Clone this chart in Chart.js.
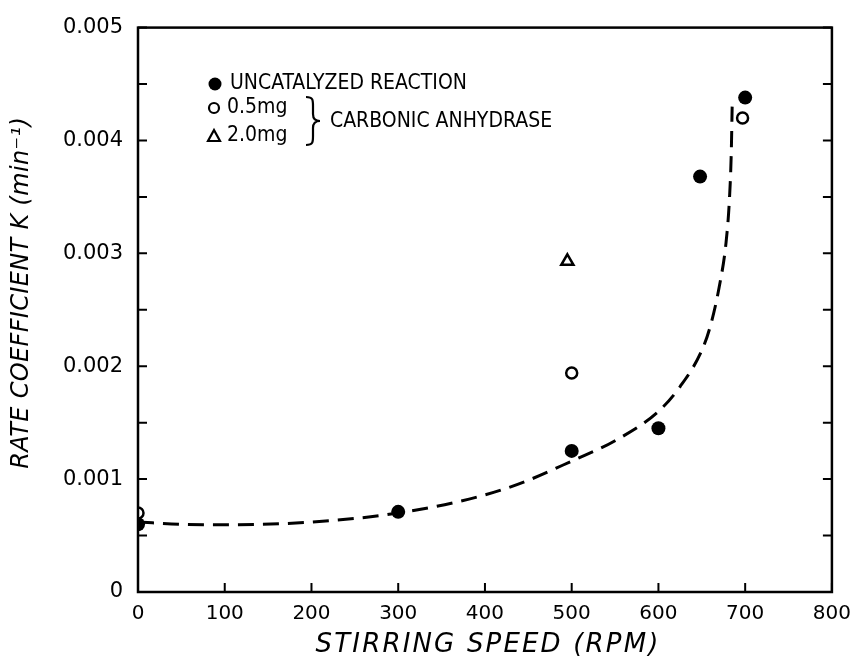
<!DOCTYPE html>
<html>
<head>
<meta charset="utf-8">
<script src="https://cdn.jsdelivr.net/npm/chart.js@4.4.0/dist/chart.umd.min.js"></script>
<style>
  html, body { margin: 0; background: #fff; }
</style>
</head>
<body>
<div style="width:861px;height:661px">
  <canvas id="myChart" width="861" height="661"></canvas>
</div>
<script>
// stirring speed ticks (RPM) and rate tick labels
const speedTicks = [0, 100, 200, 300, 400, 500, 600, 700, 800];
const rateTickLabels = ['0', '0.001', '0.002', '0.003', '0.004', '0.005'];

// uncatalyzed reaction (filled circles)
const uncatSpeed = [0, 300, 500, 600, 648, 700];
const uncatRate = [0.00060, 0.00071, 0.00125, 0.00145, 0.00368, 0.00438];

// 0.5 mg carbonic anhydrase (open circles)
const mg05Speed = [0, 500, 697];
const mg05Rate = [0.00070, 0.00194, 0.00420];

// 2.0 mg carbonic anhydrase (open triangle)
const mg20Speed = [495];
const mg20Rate = [0.00293];

// dashed fitted curve
const fitSpeed = [0, 50, 100, 200, 300, 400, 450, 500, 550, 600, 625, 650, 660, 670, 678, 682, 684, 685];
const fitRate = [0.00062, 0.00060, 0.000595, 0.00062, 0.00070, 0.00086, 0.00099, 0.00116, 0.00134, 0.00160, 0.00182, 0.00214, 0.00236, 0.00270, 0.00310, 0.00350, 0.00390, 0.00430];

const xTitle = 'STIRRING SPEED (RPM)';
const yTitle = 'RATE COEFFICIENT K (min⁻¹)';

const toXY = (xs, ys) => xs.map((x, i) => ({ x: x, y: ys[i] }));

const LETTER = '"DejaVu Sans Condensed", "Liberation Sans Narrow", "DejaVu Sans", sans-serif';
const TITLE = '"DejaVu Sans", sans-serif';

// draw text stretched to a given width using letter spacing
function spacedText(ctx, text, cx, cy, width) {
  ctx.letterSpacing = '0px';
  const w = ctx.measureText(text).width;
  const sp = Math.max(0, (width - w) / text.length);
  ctx.letterSpacing = sp + 'px';
  ctx.fillText(text, cx + sp / 2, cy);
  ctx.letterSpacing = '0px';
}

const framePlugin = {
  id: 'frame',
  afterDraw(chart) {
    const { ctx, chartArea: a, scales: { x, y } } = chart;
    ctx.save();
    ctx.strokeStyle = '#000';
    ctx.lineWidth = 2.5;
    ctx.strokeRect(a.left, a.top, a.right - a.left, a.bottom - a.top);

    // inward tick marks
    ctx.lineWidth = 2;
    ctx.beginPath();
    x.ticks.forEach(t => {
      const px = x.getPixelForValue(t.value);
      ctx.moveTo(px, a.bottom);
      ctx.lineTo(px, a.bottom - 9);
    });
    y.ticks.forEach(t => {
      const py = y.getPixelForValue(t.value);
      ctx.moveTo(a.left, py);
      ctx.lineTo(a.left + 9, py);
      ctx.moveTo(a.right, py);
      ctx.lineTo(a.right - 9, py);
    });
    ctx.stroke();

    // axis titles
    ctx.fillStyle = '#000';
    ctx.textBaseline = 'middle';
    ctx.textAlign = 'center';
    ctx.font = 'italic 26px ' + TITLE;
    spacedText(ctx, xTitle, 487, 645, 345);
    ctx.font = 'italic 24px ' + TITLE;
    ctx.save();
    ctx.translate(22, 293);
    ctx.rotate(-Math.PI / 2);
    spacedText(ctx, yTitle, 0, 0, 352);
    ctx.restore();

    // legend
    ctx.beginPath();
    ctx.arc(215, 84, 6.5, 0, Math.PI * 2);
    ctx.fill();
    ctx.lineWidth = 2.2;
    ctx.beginPath();
    ctx.arc(214, 108, 5, 0, Math.PI * 2);
    ctx.stroke();
    ctx.beginPath();
    ctx.moveTo(214, 130);
    ctx.lineTo(220, 141);
    ctx.lineTo(208, 141);
    ctx.closePath();
    ctx.stroke();

    ctx.font = '21px ' + LETTER;
    ctx.textAlign = 'left';
    ctx.fillText('UNCATALYZED REACTION', 230, 84);
    ctx.fillText('0.5mg', 227, 108);
    ctx.fillText('2.0mg', 227, 136);
    ctx.fillText('CARBONIC ANHYDRASE', 330, 122);

    // curly brace
    ctx.lineWidth = 2.2;
    ctx.beginPath();
    ctx.moveTo(306, 97);
    ctx.bezierCurveTo(313, 97, 313, 100, 313, 106);
    ctx.lineTo(313, 114);
    ctx.bezierCurveTo(313, 119, 315, 121, 320, 121);
    ctx.bezierCurveTo(315, 121, 313, 123, 313, 128);
    ctx.lineTo(313, 136);
    ctx.bezierCurveTo(313, 142, 313, 145, 306, 145);
    ctx.stroke();
    ctx.restore();
  }
};

new Chart(document.getElementById('myChart'), {
  type: 'scatter',
  data: {
    datasets: [
      {
        label: 'fit',
        data: toXY(fitSpeed, fitRate),
        showLine: true,
        borderColor: '#000',
        borderWidth: 3,
        borderDash: [16, 9],
        pointRadius: 0,
        cubicInterpolationMode: 'monotone',
        order: 4
      },
      {
        label: 'UNCATALYZED REACTION',
        data: toXY(uncatSpeed, uncatRate),
        pointStyle: 'circle',
        pointRadius: 7,
        backgroundColor: '#000',
        borderColor: '#000',
        borderWidth: 0,
        order: 1
      },
      {
        label: '0.5mg',
        data: toXY(mg05Speed, mg05Rate),
        pointStyle: 'circle',
        pointRadius: 5.5,
        backgroundColor: '#fff',
        borderColor: '#000',
        borderWidth: 2.5,
        order: 2
      },
      {
        label: '2.0mg',
        data: toXY(mg20Speed, mg20Rate),
        pointStyle: 'triangle',
        pointRadius: 7,
        backgroundColor: '#fff',
        borderColor: '#000',
        borderWidth: 2.5,
        order: 3
      }
    ]
  },
  options: {
    responsive: false,
    animation: false,
    devicePixelRatio: 1,
    layout: { padding: { top: 21, right: 27, left: 0, bottom: 0 } },
    plugins: { legend: { display: false }, tooltip: { enabled: false } },
    scales: {
      x: {
        type: 'linear',
        min: 0,
        max: 800,
        afterBuildTicks: scale => { scale.ticks = speedTicks.map(v => ({ value: v })); },
        afterFit: scale => { scale.height = 69; },
        grid: { display: false, drawTicks: false },
        border: { display: false },
        ticks: {
          padding: 10,
          color: '#000',
          font: { family: '"DejaVu Sans", sans-serif', size: 20 },
          callback: v => String(v)
        }
      },
      y: {
        type: 'linear',
        min: 0,
        max: 0.005,
        afterBuildTicks: scale => {
          const t = [];
          for (let i = 0; i <= 10; i++) t.push({ value: i * 0.0005 });
          scale.ticks = t;
        },
        afterFit: scale => { scale.width = 138; },
        grid: { display: false, drawTicks: false },
        border: { display: false },
        ticks: {
          padding: 15,
          color: '#000',
          font: { family: '"DejaVu Sans", sans-serif', size: 21 },
          callback: (v, i) => (i % 2 === 0 ? rateTickLabels[i / 2] : '')
        }
      }
    }
  },
  plugins: [framePlugin]
});
</script>
</body>
</html>
